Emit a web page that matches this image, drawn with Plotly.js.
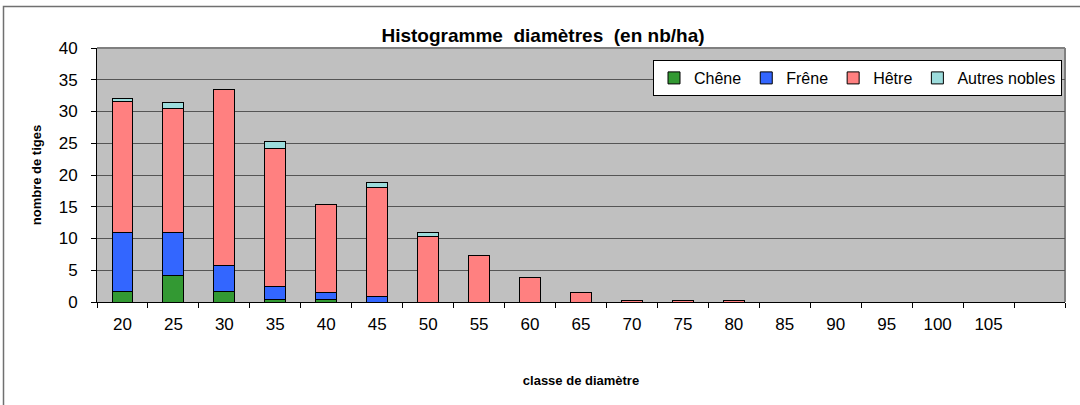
<!DOCTYPE html>
<html>
<head>
<meta charset="utf-8">
<script src="https://cdn.plot.ly/plotly-3.0.1.min.js"></script>
<style>
html,body{margin:0;padding:0;background:#fff;}
#chart{width:1080px;height:405px;}
</style>
</head>
<body>
<div id="chart"></div>
<script>
// Data
const categories = ['20','25','30','35','40','45','50','55','60','65','70','75','80','85','90','95','100','105','110'];
const tickLabels = ['20','25','30','35','40','45','50','55','60','65','70','75','80','85','90','95','100','105',''];
const chene  = [1.7, 4.15, 1.7, 0.45, 0.4, 0, 0, 0, 0, 0, 0, 0, 0, 0, 0, 0, 0, 0, 0];
const frene  = [9.2, 6.75, 4.1, 2.05, 1.05, 0.8, 0, 0, 0, 0, 0, 0, 0, 0, 0, 0, 0, 0, 0];
const hetre  = [20.75, 19.5, 27.6, 21.75, 13.95, 17.25, 10.25, 7.25, 3.85, 1.5, 0.3, 0.3, 0.3, 0, 0, 0, 0, 0, 0];
const autres = [0.45, 1.05, 0, 1.05, 0, 0.8, 0.7, 0, 0, 0, 0, 0, 0, 0, 0, 0, 0, 0, 0];
const seriesNames = ['Chêne', 'Frêne', 'Hêtre', 'Autres nobles'];
const seriesColors = ['#339933', '#3366FF', '#FF8080', '#9CDCDC'];
const seriesValues = [chene, frene, hetre, autres];

const traces = seriesValues.map((vals, i) => ({
  type: 'bar',
  name: seriesNames[i],
  x: categories,
  y: vals,
  marker: {color: seriesColors[i], line: {color: '#000000', width: 1}},
  hoverinfo: 'x+y+name'
}));

// plot area pixel geometry
const L = 97, R = 1065, T = 48, B = 302;
const W = R - L, H = B - T;
const px = v => (v - L) / W;
const py = v => (B - v) / H;

const layout = {
  width: 1080, height: 405,
  margin: {l: L, r: 1080 - R, t: T, b: 405 - B, pad: 0},
  paper_bgcolor: '#ffffff',
  plot_bgcolor: '#C0C0C0',
  barmode: 'stack',
  bargap: 0.59,
  font: {family: 'Liberation Sans, Arial, sans-serif', color: '#000'},
  title: {
    text: '<b>Histogramme  diamètres  (en nb/ha)</b>',
    font: {size: 19, family: 'Liberation Sans, Arial, sans-serif', color: '#000'},
    xref: 'container', yref: 'container',
    x: 543 / 1080, y: 1 - 35 / 405, xanchor: 'center', yanchor: 'middle'
  },
  xaxis: {
    type: 'category',
    categoryorder: 'array',
    categoryarray: categories,
    tickvals: categories,
    ticktext: tickLabels,
    tickson: 'boundaries',
    ticks: 'outside', ticklen: 5, tickcolor: '#000', tickwidth: 1,
    ticklabelstandoff: 7,
    showline: true, linecolor: '#000', linewidth: 1,
    showgrid: false, zeroline: false,
    tickfont: {size: 17},
    automargin: false,
    title: {text: '<b>classe de diamètre</b>', font: {size: 13}, standoff: 42}
  },
  yaxis: {
    range: [0, 40], dtick: 5, tick0: 0,
    ticks: 'outside', ticklen: 5, tickcolor: '#000', tickwidth: 1,
    ticklabelstandoff: 10,
    showline: true, linecolor: '#000', linewidth: 1,
    showgrid: true, gridcolor: '#555555', gridwidth: 1,
    zeroline: false,
    tickfont: {size: 17},
    automargin: false,
    title: {text: '<b>nombre de tiges</b>', font: {size: 13}, standoff: 14}
  },
  showlegend: true,
  legend: {
    orientation: 'h',
    x: px(1062), y: py(60), xanchor: 'right', yanchor: 'top',
    bgcolor: '#ffffff', bordercolor: '#000', borderwidth: 1,
    font: {size: 16},
    traceorder: 'normal',
    itemclick: false
  },
  shapes: [
    {type: 'line', xref: 'paper', yref: 'paper', x0: 0, x1: 1, y0: 1, y1: 1,
     line: {color: '#808080', width: 2}, layer: 'below'},
    {type: 'line', xref: 'paper', yref: 'paper', x0: 1, x1: 1, y0: 0, y1: 1,
     line: {color: '#808080', width: 2}, layer: 'below'},
    {type: 'path', xref: 'paper', yref: 'paper',
     path: 'M ' + px(3.5) + ',' + py(406) + ' L ' + px(3.5) + ',' + py(6.5) + ' L ' + px(1081) + ',' + py(6.5),
     line: {color: '#707070', width: 1.5}}
  ]
};

Plotly.newPlot('chart', traces, layout, {displayModeBar: false, staticPlot: false});
</script>
</body>
</html>
